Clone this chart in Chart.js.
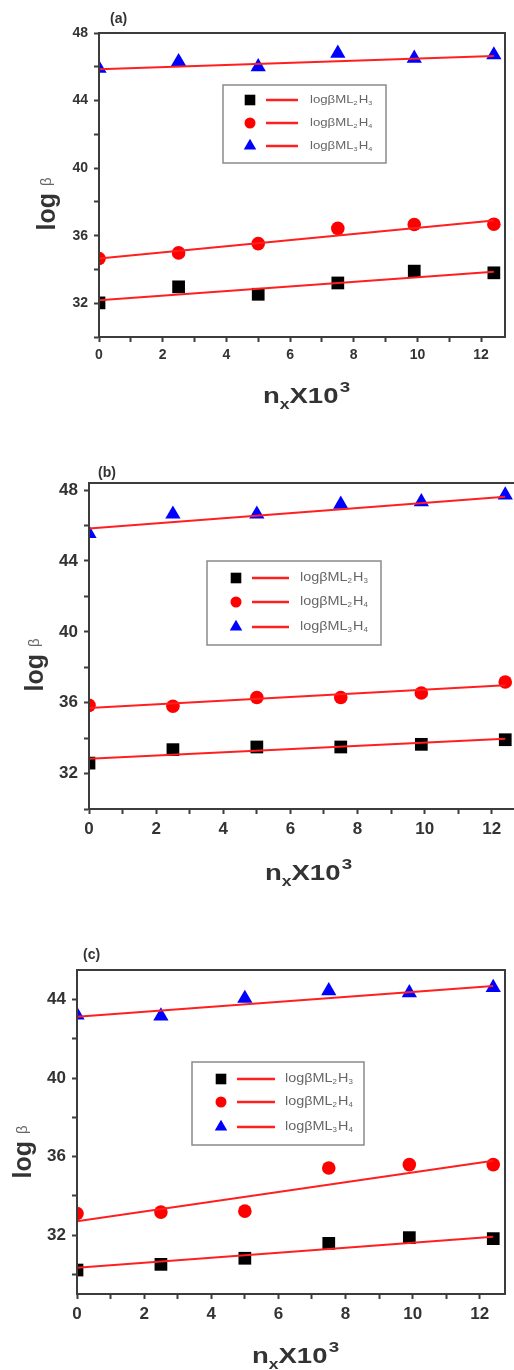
<!DOCTYPE html>
<html>
<head>
<meta charset="utf-8">
<script src="https://cdn.jsdelivr.net/npm/chart.js@4.4.1/dist/chart.umd.min.js"></script>
<style>
  body { margin: 0; background: #fff; width: 514px; height: 1370px; overflow: hidden; position: relative; }
  .panel { position: absolute; left: 0; width: 514px; overflow: hidden; }
</style>
</head>
<body>
<div class="panel" style="top:0;height:420px"><canvas id="chartA" width="514" height="420"></canvas></div>
<div class="panel" style="top:440px;height:450px"><canvas id="chartB" width="530" height="450"></canvas></div>
<div class="panel" style="top:900px;height:470px"><canvas id="chartC" width="514" height="470"></canvas></div>
<script>
// x values (n_x * 10^3) of the measured points and the ends of the fitted lines
const nx = [0, 2.5, 5, 7.5, 9.9, 12.4];
const fitX = [0, 12.4];

// panel (a)
const aML2H3 = [32.02, 32.97, 32.53, 33.2, 33.9, 33.8];
const aML2H4 = [34.65, 34.98, 35.53, 36.43, 36.66, 36.68];
const aML3H4 = [45.9, 46.3, 46.0, 46.8, 46.5, 46.7];
const aFitML2H3 = [32.18, 33.87];
const aFitML2H4 = [34.65, 36.9];
const aFitML3H4 = [45.85, 46.64];

// panel (b)
const bML2H3 = [32.59, 33.35, 33.5, 33.5, 33.65, 33.91];
const bML2H4 = [35.85, 35.8, 36.29, 36.29, 36.55, 37.17];
const bML3H4 = [45.55, 46.64, 46.64, 47.2, 47.34, 47.72];
const bFitML2H3 = [32.84, 33.97];
const bFitML2H4 = [35.7, 36.98];
const bFitML3H4 = [45.83, 47.62];

// panel (c)
const cML2H3 = [30.22, 30.51, 30.82, 31.58, 31.87, 31.82];
const cML2H4 = [33.1, 33.17, 33.22, 35.42, 35.59, 35.59];
const cML3H4 = [43.2, 43.15, 44.05, 44.44, 44.34, 44.6];
const cFitML2H3 = [30.34, 31.92];
const cFitML2H4 = [32.71, 35.79];
const cFitML3H4 = [43.12, 44.68];

// legend text, "_" marks a subscript digit
const legendLabels = ["logβML_2H_3", "logβML_2H_4", "logβML_3H_4"];
const panelLabels = ["(a)", "(b)", "(c)"];

const RED = "#ff1f1f";
const AXIS = "#3c3c3c";
const FONT = "'Liberation Sans', Arial, sans-serif";
const markerStyles = [
  { pointStyle: "rect", color: "#000", r: 9, lr: 7.5 },
  { pointStyle: "circle", color: "#ff0000", r: 6.8, lr: 5.5 },
  { pointStyle: "triangle", color: "#0000ff", r: 8.8, lr: 7.2 }
];

function pts(xs, ys) {
  return xs.map((x, i) => ({ x: x, y: ys[i] }));
}

function drawSubText(ctx, text, x, y, size, color) {
  let cx = x;
  for (let i = 0; i < text.length; i++) {
    const ch = text[i];
    if (ch === "_") {
      const d = text[++i];
      ctx.font = (size * 0.55) + "px " + FONT;
      ctx.fillText(d, cx, y + size * 0.3);
      cx += ctx.measureText(d).width + 1;
    } else {
      ctx.font = size + "px " + FONT;
      ctx.fillStyle = color;
      ctx.fillText(ch, cx, y);
      cx += ctx.measureText(ch).width;
    }
  }
}

function decorPlugin(p) {
  return {
    id: "decor",
    afterDraw(chart) {
      const ctx = chart.ctx;
      const a = chart.chartArea;
      ctx.save();
      // frame around the plot
      ctx.strokeStyle = AXIS;
      ctx.lineWidth = 2;
      ctx.strokeRect(a.left, a.top, a.right - a.left, a.bottom - a.top);

      // panel label
      ctx.fillStyle = "#333";
      ctx.font = "bold 14px " + FONT;
      ctx.textBaseline = "middle";
      ctx.fillText(p.label, p.labelX, p.labelY);

      // y title: log β
      ctx.save();
      ctx.translate(p.yTitleX, p.yTitleY);
      ctx.rotate(-Math.PI / 2);
      ctx.font = "bold 25px " + FONT;
      const w1 = ctx.measureText("log ").width;
      ctx.font = "15px " + FONT;
      const w2 = ctx.measureText("β").width;
      let sx = -(w1 + w2) / 2;
      ctx.textBaseline = "alphabetic";
      ctx.fillStyle = "#333";
      ctx.font = "bold 25px " + FONT;
      ctx.fillText("log ", sx, 8);
      ctx.fillStyle = "#666";
      ctx.font = "15px " + FONT;
      ctx.fillText("β", sx + w1, 4);
      ctx.restore();

      // x title: n_x X 10^3
      ctx.save();
      ctx.translate(p.xTitleX, p.xTitleY);
      ctx.scale(1.25, 1);
      ctx.fillStyle = "#333";
      ctx.textBaseline = "alphabetic";
      let x = 0;
      ctx.font = "bold 22px " + FONT;
      ctx.fillText("n", x, 0); x += ctx.measureText("n").width;
      ctx.font = "bold 14px " + FONT;
      ctx.fillText("x", x, 6); x += ctx.measureText("x").width;
      ctx.font = "bold 22px " + FONT;
      ctx.fillText("X10", x, 0); x += ctx.measureText("X10").width + 1;
      ctx.font = "bold 15px " + FONT;
      ctx.fillText("3", x, -11);
      ctx.restore();

      // legend
      const lg = p.legend;
      ctx.fillStyle = "#fff";
      ctx.fillRect(lg.x, lg.y, lg.w, lg.h);
      ctx.strokeStyle = "#8a8a8a";
      ctx.lineWidth = 1.5;
      ctx.strokeRect(lg.x, lg.y, lg.w, lg.h);
      ctx.textBaseline = "middle";
      legendLabels.forEach((txt, i) => {
        const ry = lg.rows[i];
        const m = markerStyles[i];
        ctx.fillStyle = m.color;
        Chart.helpers.drawPoint(ctx, { pointStyle: m.pointStyle, radius: m.lr, rotation: 0, borderWidth: 0 }, lg.markerX, ry);
        ctx.strokeStyle = RED;
        ctx.lineWidth = 2.5;
        ctx.beginPath();
        ctx.moveTo(lg.lineX1, ry);
        ctx.lineTo(lg.lineX2, ry);
        ctx.stroke();
        ctx.save();
        ctx.translate(lg.textX, ry);
        ctx.scale(1.2, 1);
        ctx.fillStyle = "#666";
        drawSubText(ctx, txt, 0, 0, lg.font, "#666");
        ctx.restore();
      });
      ctx.restore();
    }
  };
}

function makePanel(id, series, fits, p) {
  const datasets = [];
  fits.forEach(f => {
    datasets.push({
      data: pts(fitX, f),
      showLine: true,
      borderColor: RED,
      borderWidth: 2,
      pointRadius: 0,
      order: 0
    });
  });
  series.forEach((s, i) => {
    const m = markerStyles[i];
    datasets.push({
      data: pts(nx, s),
      pointStyle: m.pointStyle,
      pointRadius: m.r,
      pointBackgroundColor: m.color,
      pointBorderWidth: 0,
      showLine: false,
      order: 1
    });
  });

  const ctx = document.getElementById(id).getContext("2d");
  new Chart(ctx, {
    type: "scatter",
    data: { datasets: datasets },
    options: {
      responsive: false,
      animation: false,
      events: [],
      layout: {
        padding: { left: p.L - 40, right: p.W - p.R, top: p.T, bottom: p.H - p.B - 40 }
      },
      plugins: { legend: { display: false }, tooltip: { enabled: false } },
      scales: {
        x: {
          type: "linear",
          min: 0,
          max: 12.75,
          afterFit: s => { s.height = 40; },
          border: { display: true, color: AXIS, width: 2 },
          grid: { drawOnChartArea: false, drawTicks: true, tickLength: 5, tickColor: AXIS, tickWidth: 2 },
          ticks: {
            stepSize: 1,
            includeBounds: false,
            autoSkip: false,
            maxRotation: 0,
            padding: 5,
            color: "#333",
            font: { family: FONT, size: p.tickFont, weight: "bold" },
            callback: v => (v % 2 === 0 ? v : "")
          }
        },
        y: {
          type: "linear",
          min: p.yMin,
          max: p.yMax,
          afterFit: s => { s.width = 40; },
          border: { display: true, color: AXIS, width: 2 },
          grid: { drawOnChartArea: false, drawTicks: true, tickLength: 5, tickColor: AXIS, tickWidth: 2 },
          ticks: {
            stepSize: 2,
            includeBounds: false,
            autoSkip: false,
            padding: 6,
            color: "#333",
            font: { family: FONT, size: p.tickFont, weight: "bold" },
            callback: v => (v % 4 === 0 ? v : "")
          }
        }
      }
    },
    plugins: [decorPlugin(p)]
  });
}

makePanel("chartA", [aML2H3, aML2H4, aML3H4], [aFitML2H3, aFitML2H4, aFitML3H4], {
  W: 514, H: 420, L: 99, R: 507, T: 33, B: 337, yMin: 30, yMax: 48, tickFont: 14,
  label: panelLabels[0], labelX: 110, labelY: 19,
  yTitleX: 47, yTitleY: 204, xTitleX: 263, xTitleY: 403,
  legend: { x: 223, y: 85, w: 163, h: 78, rows: [100, 123, 146], markerX: 250, lineX1: 266, lineX2: 298, textX: 310, font: 11 }
});

makePanel("chartB", [bML2H3, bML2H4, bML3H4], [bFitML2H3, bFitML2H4, bFitML3H4], {
  W: 530, H: 450, L: 89, R: 517, T: 43, B: 369, yMin: 30, yMax: 48.4, tickFont: 17,
  label: panelLabels[1], labelX: 98, labelY: 33,
  yTitleX: 35, yTitleY: 225, xTitleX: 265, xTitleY: 440,
  legend: { x: 207, y: 121, w: 174, h: 84, rows: [138, 162, 187], markerX: 236, lineX1: 252, lineX2: 289, textX: 300, font: 12 }
});

makePanel("chartC", [cML2H3, cML2H4, cML3H4], [cFitML2H3, cFitML2H4, cFitML3H4], {
  W: 514, H: 470, L: 77, R: 509, T: 70, B: 394, yMin: 29, yMax: 45.5, tickFont: 17,
  label: panelLabels[2], labelX: 83, labelY: 55,
  yTitleX: 23, yTitleY: 252, xTitleX: 252, xTitleY: 463,
  legend: { x: 192, y: 162, w: 172, h: 83, rows: [179, 202, 227], markerX: 221, lineX1: 237, lineX2: 275, textX: 285, font: 12 }
});
</script>
</body>
</html>
